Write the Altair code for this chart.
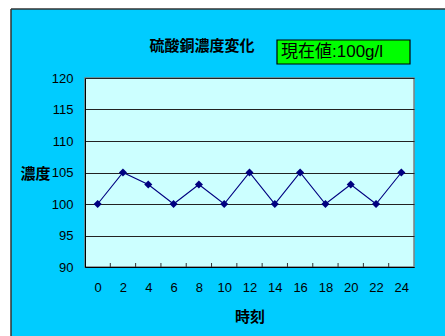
import altair as alt
import pandas as pd

hours = [0, 2, 4, 6, 8, 10, 12, 14, 16, 18, 20, 22, 24]
conc = [100, 105, 103.1, 100, 103.1, 100, 105, 100, 105, 100, 103.1, 100, 105]
x_ticks = [1, 3, 5, 7, 9, 11, 13, 15, 17, 19, 21, 23]
y_vals = [90, 95, 100, 105, 110, 115, 120]
title_text = "硫酸銅濃度変化"
box_text = "現在値:100g/l"
x_title = "時刻"
y_title = "濃度"

W, H = 329, 189
L, T = 85, 78
FONT = "Liberation Sans, Noto Sans CJK JP, sans-serif"
CJK = "Noto Sans CJK JP, sans-serif"

df = pd.DataFrame({"h": hours, "c": conc})
ticks_df = pd.DataFrame({"h": x_ticks})
one = pd.DataFrame({"t": [box_text]})

xs = alt.Scale(domain=[-1, 25], nice=False, zero=False)
ys = alt.Scale(domain=[90, 120], nice=False, zero=False)

x_axis = alt.Axis(values=hours, ticks=False, grid=False, domainColor="#000000",
                  labelOverlap=False, labelBound=False, tickCount=13,
                  labelPadding=14, labelFontSize=13, labelFont=FONT, labelColor="#000",
                  title=x_title, titleFont=CJK, titleFontSize=15, titleFontWeight="bold",
                  titleY=49, titleBaseline="middle", titleColor="#000")
y_axis = alt.Axis(values=y_vals, ticks=False, grid=True, tickCount=7,
                  labelOverlap=False, labelBound=False,
                  gridColor="#222222", gridOpacity=1, domainColor="#000000",
                  labelPadding=12, labelFontSize=13, labelFont=FONT, labelColor="#000",
                  title=y_title, titleFont=CJK, titleFontSize=15, titleFontWeight="bold",
                  titleAngle=0, titleX=-50, titleY=95, titleAlign="center",
                  titleBaseline="middle", titleColor="#000")

# white strips outside the blue panel (sheet area)
white_left = alt.Chart(one).mark_rect(color="white").encode(
    x=alt.value(-L), x2=alt.value(-74), y=alt.value(-T), y2=alt.value(H + 80))
white_top = alt.Chart(one).mark_rect(color="white").encode(
    x=alt.value(-L), x2=alt.value(W + 40), y=alt.value(-T), y2=alt.value(-69))
border_l = alt.Chart(one).mark_rule(color="#333333", strokeWidth=1.5).encode(
    x=alt.value(-74), y=alt.value(-69), y2=alt.value(H + 80))
border_t = alt.Chart(one).mark_rule(color="#333333", strokeWidth=1.5).encode(
    x=alt.value(-74), x2=alt.value(W + 40), y=alt.value(-69))

line = alt.Chart(df).mark_line(color="#000080", strokeWidth=1.1).encode(
    x=alt.X("h:Q", scale=xs, axis=x_axis),
    y=alt.Y("c:Q", scale=ys, axis=y_axis))
pts = alt.Chart(df).mark_point(shape="diamond", filled=True, color="#000080",
                               size=65, opacity=1).encode(
    x=alt.X("h:Q", scale=xs, axis=x_axis), y=alt.Y("c:Q", scale=ys, axis=y_axis))
xt = alt.Chart(ticks_df).mark_rule(color="#333333").encode(
    x=alt.X("h:Q", scale=xs, axis=x_axis), y=alt.value(H - 4), y2=alt.value(H))

title = alt.Chart(one).mark_text(text=title_text, font=CJK, fontSize=15,
                                 fontWeight="bold", color="#000", align="center",
                                 baseline="middle").encode(
    x=alt.value(117), y=alt.value(-32))
box = alt.Chart(one).mark_rect(fill="#00FF00", stroke="#000000", strokeWidth=1.2).encode(
    x=alt.value(277 - L), x2=alt.value(410 - L), y=alt.value(40 - T), y2=alt.value(64 - T))
box_t = alt.Chart(one).mark_text(font=FONT, fontSize=17, color="#000", align="left",
                                 baseline="middle").encode(
    text="t:N", x=alt.value(281 - L), y=alt.value(52 - T))

chart = alt.layer(white_left, white_top, border_l, border_t, line, pts, xt,
                  title, box, box_t).properties(
    width=W, height=H,
    autosize=alt.AutoSizeParams(type="none"),
    padding={"left": L, "top": T, "right": 445 - L - W, "bottom": 336 - T - H},
    background="#00CCFF",
).configure_view(fill="#CCFFFF", stroke="#808080", strokeWidth=1.5)

chart.save("out.html", embed_options={"renderer": "svg", "actions": False})
